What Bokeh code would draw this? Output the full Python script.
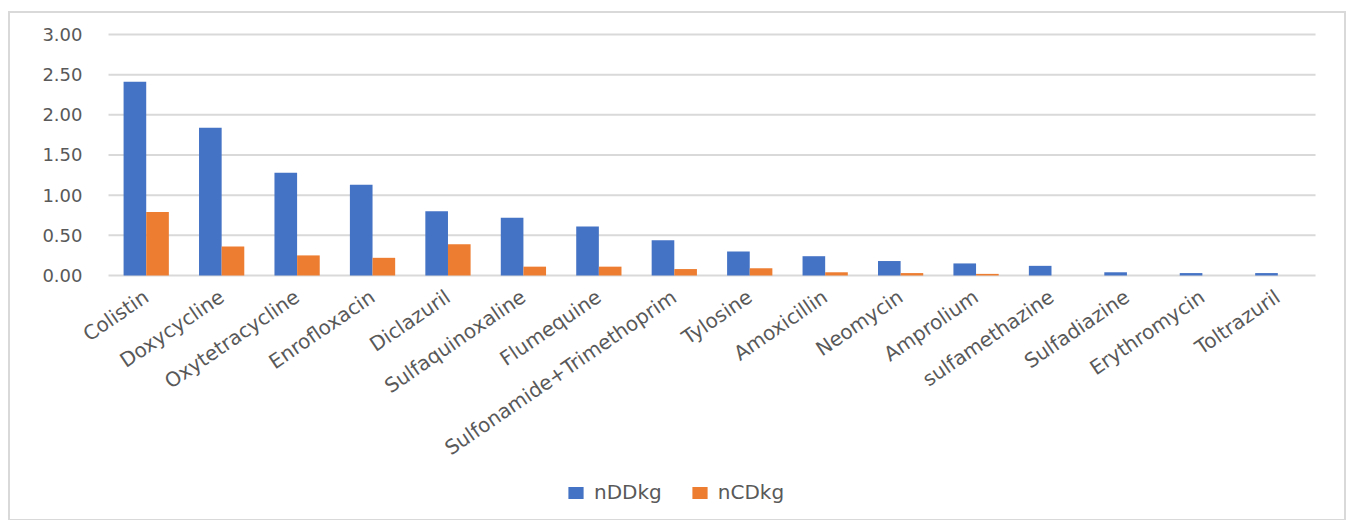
from bokeh.plotting import figure
from bokeh.models import ColumnDataSource, Range1d, Legend, LegendItem
from bokeh.core.properties import value
from bokeh.transform import dodge
from bokeh.embed import file_html
from bokeh.resources import INLINE

categories = ["Colistin", "Doxycycline", "Oxytetracycline", "Enrofloxacin", "Diclazuril",
              "Sulfaquinoxaline", "Flumequine", "Sulfonamide+Trimethoprim", "Tylosine",
              "Amoxicillin", "Neomycin", "Amprolium", "sulfamethazine", "Sulfadiazine",
              "Erythromycin", "Toltrazuril"]
nDDkg = [2.41, 1.84, 1.28, 1.13, 0.80, 0.72, 0.61, 0.44, 0.30, 0.24, 0.18, 0.15, 0.12, 0.04, 0.03, 0.03]
nCDkg = [0.79, 0.36, 0.25, 0.22, 0.39, 0.11, 0.11, 0.08, 0.09, 0.04, 0.03, 0.02, 0.0, 0.0, 0.0, 0.0]
y_ticks = [0, 0.5, 1.0, 1.5, 2.0, 2.5, 3.0]
y_tick_labels = ["0.00", "0.50", "1.00", "1.50", "2.00", "2.50", "3.00"]

BLUE = "#4472C4"
ORANGE = "#ED7D31"
TEXT = "#595959"
GRID = "#d9d9d9"
FONT = "DejaVu Sans"

n = len(categories)
src = ColumnDataSource(dict(idx=list(range(n)), cat=categories, a=nDDkg, b=nCDkg))
ticks = ColumnDataSource(dict(y=y_ticks, lab=y_tick_labels))

# The frame covers the whole chart box: category slot i is centred at x = i.
p = figure(width=1338, height=510, x_range=Range1d(-1.799, 15.937), y_range=Range1d(-3.087, 3.261),
           x_axis_location=None, y_axis_location=None, output_backend="svg", toolbar_location=None,
           min_border_left=0, min_border_right=0, min_border_top=0, min_border_bottom=0,
           styles={"border": "2px solid #d9d9d9", "margin-left": "8px", "margin-top": "11px"})
p.background_fill_color = "white"
p.border_fill_color = "white"
p.outline_line_color = None
p.xgrid.visible = False
p.ygrid.visible = False

# horizontal gridlines across the category area
p.segment(x0=-0.5, x1=n - 0.5, y0="y", y1="y", source=ticks, line_color=GRID, line_width=2)

r1 = p.vbar(x=dodge("idx", -0.15), top="a", bottom=0, width=0.3, source=src,
            fill_color=BLUE, line_color=None)
r2 = p.vbar(x=dodge("idx", 0.15), top="b", bottom=0, width=0.3, source=src,
            fill_color=ORANGE, line_color=None)

# value tick labels
p.text(x=-0.5, y="y", text="lab", source=ticks, x_offset=-26,
       text_align="right", text_baseline="middle",
       text_font=value(FONT), text_font_size="18px", text_color=TEXT)

# category labels, rotated, ending under each category
p.text(x="idx", y=0, text="cat", source=src, angle=0.6,
       text_align="right", text_baseline="middle", x_offset=0, y_offset=19,
       text_font=value(FONT), text_font_size="20px", text_color=TEXT)

legend = Legend(items=[LegendItem(label="nDDkg", renderers=[r1]),
                       LegendItem(label="nCDkg", renderers=[r2])],
                orientation="horizontal", location=(556, 19),
                glyph_width=19, glyph_height=15, spacing=28, label_standoff=9,
                label_text_font=FONT, label_text_font_size="20px", label_text_color=TEXT,
                border_line_color=None, background_fill_alpha=0, padding=10, margin=0)
p.add_layout(legend, "center")

open("out.html", "w").write(file_html(p, INLINE))
